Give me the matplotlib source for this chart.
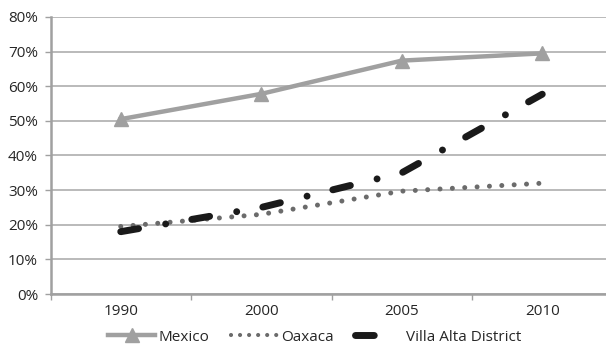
import numpy as np
import matplotlib
matplotlib.use("Agg")
import matplotlib.pyplot as plt
from matplotlib.lines import Line2D

# данные (доли в %)
years = ["1990", "2000", "2005", "2010"]
mexico = [50.5, 57.8, 67.4, 69.5]
oaxaca = [19.5, 23.0, 29.7, 32.0]
villa_alta = [18.0, 25.0, 35.0, 57.7]
y_ticks = [0, 10, 20, 30, 40, 50, 60, 70, 80]

plt.rcParams['font.family'] = ['Open Sans', 'DejaVu Sans']
plt.rcParams['lines.scale_dashes'] = False

txt = '#262626'
fs = 11
fig = plt.figure(figsize=(6.06, 3.5), dpi=100)
ax = fig.add_axes([50.5 / 606, 56 / 350, 562 / 606, 277 / 350])

x = np.arange(len(years))

ax.plot(x, mexico, color='#a0a0a0', lw=3.2, marker='^', ms=10,
        solid_joinstyle='round', zorder=3)
ax.plot(x, oaxaca, color='#6b6b6b', lw=3.6, linestyle=(0, (0.01, 8.9)),
        dash_capstyle='round', zorder=4)
ax.plot(x, villa_alta, color='#1a1a1a', lw=5, linestyle=(0, (13, 19.8, 0.01, 19.1)),
        dash_capstyle='round', zorder=5)

ax.set_xlim(-0.5, 3.5)
ax.set_ylim(0, 80)
ax.set_yticks(y_ticks)
ax.set_yticklabels([f"{v}%" for v in y_ticks])
ax.yaxis.grid(True, color='#b4b4b4', lw=1.3)
ax.set_axisbelow(True)

# деления между категориями, подписи по центру
ax.set_xticks(np.arange(-0.5, len(years), 1.0))
ax.set_xticklabels([])
ax.set_xticks(x, minor=True)
ax.set_xticklabels(years, minor=True)
ax.tick_params(axis='x', which='major', length=4, width=1, color='#a0a0a0')
ax.tick_params(axis='x', which='minor', length=0, pad=7, labelsize=fs, labelcolor=txt)
ax.tick_params(axis='y', length=4, width=1, color='#a0a0a0', pad=5, labelsize=fs,
               labelcolor=txt)

for s in ['top', 'right']:
    ax.spines[s].set_visible(False)
ax.spines['left'].set_color('#a0a0a0')
ax.spines['left'].set_linewidth(1.8)
ax.spines['bottom'].set_color('#a0a0a0')
ax.spines['bottom'].set_linewidth(1.8)

handles = [
    Line2D([], [], color='#a0a0a0', lw=3.2, marker='^', ms=10),
    Line2D([], [], color='#6b6b6b', lw=3, linestyle=(0, (0.01, 6.5)), dash_capstyle='round'),
    Line2D([], [], color='#1a1a1a', lw=5, linestyle=(0, (13.5, 60)), dash_capstyle='round'),
]
fig.legend(handles, ["Mexico", "Oaxaca", "Villa Alta District"], loc='center',
           bbox_to_anchor=(0.519, 0.037), ncol=3, frameon=False, fontsize=fs,
           handlelength=3.1, handletextpad=0.2, columnspacing=1.4, numpoints=1,
           labelcolor=txt)

fig.savefig('out.png', dpi=100)
